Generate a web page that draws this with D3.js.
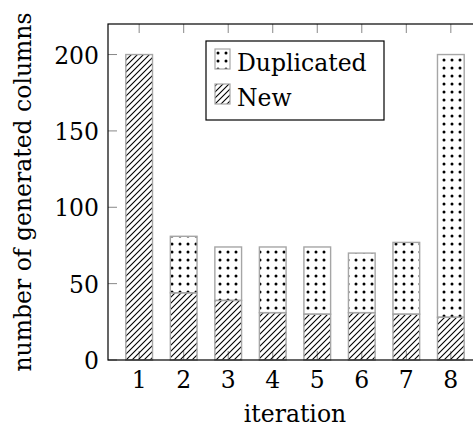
<!DOCTYPE html>
<html>
<head>
<meta charset="utf-8">
<script src="https://cdn.jsdelivr.net/npm/d3@7"></script>
<style>
  body { margin: 0; background: #fff; }
  svg { display: block; }
  text { font-family: "DejaVu Serif", serif; fill: #000; }
</style>
</head>
<body>
<div id="chart"></div>
<script>
// values
var iterations = [1, 2, 3, 4, 5, 6, 7, 8];
var newCols = [200, 44, 39, 31, 30, 31, 30, 28];
var duplicatedCols = [0, 37, 35, 43, 44, 39, 47, 172];
var yTicks = [0, 50, 100, 150, 200];

var width = 473, height = 429;
var margin = { top: 24, left: 108, right: 482, bottom: 360 };
var fontSize = 23.5;

var svg = d3.select("#chart")
	.append("svg")
	.attr("width", width)
	.attr("height", height);

var defs = svg.append("defs");

// north east lines
var hatch = defs.append("pattern")
	.attr("id", "hatch")
	.attr("patternUnits", "userSpaceOnUse")
	.attr("width", 6)
	.attr("height", 6);
hatch.append("path")
	.attr("d", "M-1,1 l2,-2 M0,6 l6,-6 M5,7 l2,-2")
	.attr("stroke", "#000")
	.attr("stroke-width", 1.1);

// dots
var dots = defs.append("pattern")
	.attr("id", "dots")
	.attr("patternUnits", "userSpaceOnUse")
	.attr("width", 8)
	.attr("height", 8);
dots.append("circle")
	.attr("cx", 4)
	.attr("cy", 4)
	.attr("r", 1.5)
	.attr("fill", "#000");

var xScale = d3.scaleLinear()
	.domain([0.3, 8.7])
	.range([margin.left, margin.right]);

var yScale = d3.scaleLinear()
	.domain([0, 220])
	.range([margin.bottom, margin.top]);

var barW = xScale(0.6) - xScale(0);

// ticks (inward, on all sides)
var tickLen = 9;
var g = svg.append("g");
g.selectAll(".xt-bottom")
	.data(iterations)
	.enter()
	.append("line")
	.attr("x1", function(d) { return xScale(d); })
	.attr("x2", function(d) { return xScale(d); })
	.attr("y1", margin.bottom)
	.attr("y2", margin.bottom - tickLen)
	.attr("stroke", "#888")
	.attr("stroke-width", 1);
g.selectAll(".xt-top")
	.data(iterations)
	.enter()
	.append("line")
	.attr("x1", function(d) { return xScale(d); })
	.attr("x2", function(d) { return xScale(d); })
	.attr("y1", margin.top)
	.attr("y2", margin.top + tickLen)
	.attr("stroke", "#888")
	.attr("stroke-width", 1);
g.selectAll(".yt-left")
	.data(yTicks)
	.enter()
	.append("line")
	.attr("x1", margin.left)
	.attr("x2", margin.left + tickLen)
	.attr("y1", function(d) { return yScale(d); })
	.attr("y2", function(d) { return yScale(d); })
	.attr("stroke", "#888")
	.attr("stroke-width", 1);
g.selectAll(".yt-right")
	.data(yTicks)
	.enter()
	.append("line")
	.attr("x1", margin.right)
	.attr("x2", margin.right - tickLen)
	.attr("y1", function(d) { return yScale(d); })
	.attr("y2", function(d) { return yScale(d); })
	.attr("stroke", "#888")
	.attr("stroke-width", 1);

// bars
var rows = iterations.map(function(it, i) {
	return { it: it, n: newCols[i], dup: duplicatedCols[i] };
});

svg.selectAll(".bar-new")
	.data(rows)
	.enter()
	.append("rect")
	.attr("class", "bar-new")
	.attr("x", function(d) { return xScale(d.it) - barW / 2; })
	.attr("width", barW)
	.attr("y", function(d) { return yScale(d.n); })
	.attr("height", function(d) { return yScale(0) - yScale(d.n); })
	.attr("fill", "url(#hatch)")
	.attr("stroke", "#a6a6a6")
	.attr("stroke-width", 1.4);

svg.selectAll(".bar-dup")
	.data(rows.filter(function(d) { return d.dup > 0; }))
	.enter()
	.append("rect")
	.attr("class", "bar-dup")
	.attr("x", function(d) { return xScale(d.it) - barW / 2; })
	.attr("width", barW)
	.attr("y", function(d) { return yScale(d.n + d.dup); })
	.attr("height", function(d) { return yScale(d.n) - yScale(d.n + d.dup); })
	.attr("fill", "url(#dots)")
	.attr("stroke", "#a6a6a6")
	.attr("stroke-width", 1.4);

// axis box
svg.append("rect")
	.attr("x", margin.left)
	.attr("y", margin.top)
	.attr("width", margin.right - margin.left)
	.attr("height", margin.bottom - margin.top)
	.attr("fill", "none")
	.attr("stroke", "#000")
	.attr("stroke-width", 1.2);

// tick labels
svg.selectAll(".x-label")
	.data(iterations)
	.enter()
	.append("text")
	.attr("class", "x-label")
	.attr("text-anchor", "middle")
	.attr("x", function(d) { return xScale(d); })
	.attr("y", margin.bottom + 28)
	.style("font-size", fontSize + "px")
	.text(function(d) { return d; });

svg.selectAll(".y-label")
	.data(yTicks)
	.enter()
	.append("text")
	.attr("class", "y-label")
	.attr("text-anchor", "end")
	.attr("x", margin.left - 9)
	.attr("y", function(d) { return yScale(d) + 9; })
	.style("font-size", fontSize + "px")
	.text(function(d) { return d; });

// axis titles
svg.append("text")
	.attr("text-anchor", "middle")
	.attr("x", (margin.left + margin.right) / 2)
	.attr("y", 422)
	.style("font-size", fontSize + "px")
	.text("iteration");

svg.append("text")
	.attr("text-anchor", "middle")
	.attr("transform", "translate(31," + ((margin.top + margin.bottom) / 2) + ") rotate(-90)")
	.style("font-size", fontSize + "px")
	.text("number of generated columns");

// legend
var legend = svg.append("g").attr("transform", "translate(206,41)");
legend.append("rect")
	.attr("width", 178)
	.attr("height", 79)
	.attr("fill", "#fff")
	.attr("stroke", "#000")
	.attr("stroke-width", 1.2);

var legendItems = [
	{ label: "Duplicated", fill: "url(#dots)", y: 8 },
	{ label: "New", fill: "url(#hatch)", y: 43 }
];
legend.selectAll(".sw")
	.data(legendItems)
	.enter()
	.append("rect")
	.attr("x", 9)
	.attr("y", function(d) { return d.y; })
	.attr("width", 15)
	.attr("height", 20)
	.attr("fill", function(d) { return d.fill; })
	.attr("stroke", "#a6a6a6")
	.attr("stroke-width", 1.2);
legend.selectAll(".lt")
	.data(legendItems)
	.enter()
	.append("text")
	.attr("x", 31)
	.attr("y", function(d) { return d.y + 22; })
	.style("font-size", fontSize + "px")
	.text(function(d) { return d.label; });
</script>
</body>
</html>
